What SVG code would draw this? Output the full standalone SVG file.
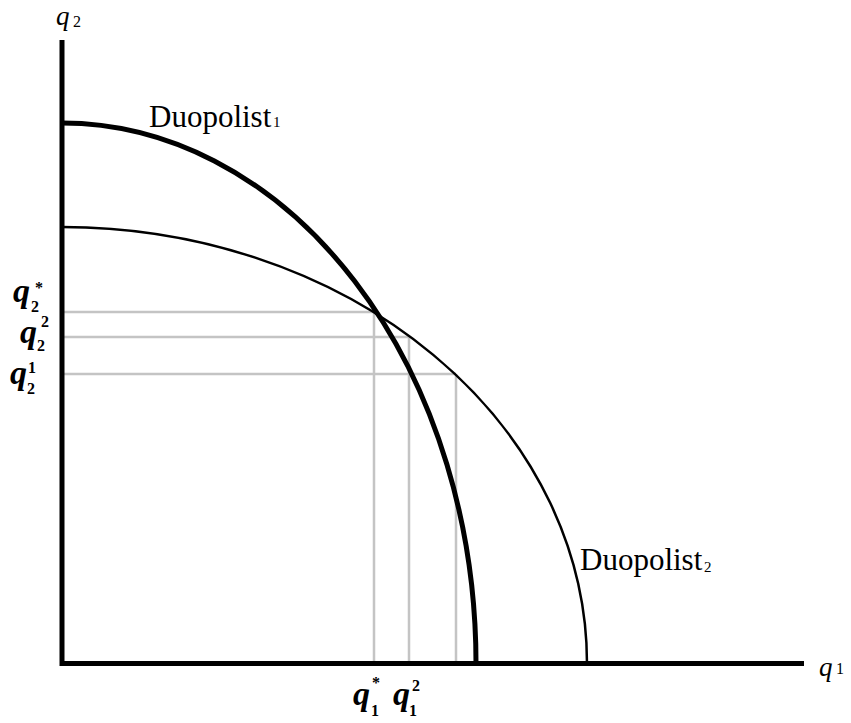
<svg xmlns="http://www.w3.org/2000/svg" width="851" height="723" viewBox="0 0 851 723">
<style>
.axis{stroke:#000;stroke-width:5;fill:none}
.grid{stroke:#c4c4c4;stroke-width:2.5;fill:none}
.c1{stroke:#000;stroke-width:5;fill:none}
.c2{stroke:#000;stroke-width:2.5;fill:none}
text{font-family:'Liberation Serif','Times New Roman',Times,serif;fill:#000}
.ax{font-style:italic;font-size:27px}
.axs{font-size:16px}
.bq{font-style:italic;font-weight:bold;font-size:34px}
.bs{font-weight:bold;font-size:16px}
.dl{font-size:31px}
.ds{font-size:15px}
</style>
<rect width="851" height="723" fill="#fff"/>
<g id="guides">
<line class="grid" x1="62" y1="312" x2="374" y2="312"/>
<line class="grid" x1="62" y1="337" x2="409" y2="337"/>
<line class="grid" x1="62" y1="374" x2="456" y2="374"/>
<line class="grid" x1="374" y1="312" x2="374" y2="663"/>
<line class="grid" x1="409" y1="337" x2="409" y2="663"/>
<line class="grid" x1="456" y1="374" x2="456" y2="663"/>
</g>
<g id="curves">
<path id="duopolist1-curve" class="c1" d="M62,123 A414,540.5 0 0 1 476,663.5"/>
<path id="duopolist2-curve" class="c2" d="M62,227 A525,436.5 0 0 1 587,663.5"/>
</g>
<g id="axes">
<line class="axis" x1="62" y1="40" x2="62" y2="666"/>
<line class="axis" x1="60" y1="663.5" x2="804" y2="663.5"/>
</g>
<g id="axis-labels">
<text x="56" y="25" class="ax">q</text><text x="73" y="27" class="axs">2</text>
<text x="819" y="676" class="ax">q</text><text x="836" y="674" class="axs">1</text>
</g>
<g id="curve-labels">
<text x="149" y="126.5" class="dl">Duopolist</text><text x="273" y="127" class="ds">1</text>
<text x="580" y="570" class="dl">Duopolist</text><text x="704" y="572" class="ds">2</text>
</g>
<g id="left-labels">
<text x="13" y="302" class="bq">q</text><text x="31" y="312" class="bs">2</text><text x="35" y="293" class="bs">*</text>
<text x="20" y="343" class="bq">q</text><text x="37" y="351" class="bs">2</text><text x="41" y="327" class="bs">2</text>
<text x="10" y="384" class="bq">q</text><text x="27" y="394" class="bs">2</text><text x="28" y="373" class="bs">1</text>
</g>
<g id="bottom-labels">
<text x="353" y="705" class="bq">q</text><text x="371" y="716" class="bs">1</text><text x="372" y="688" class="bs">*</text>
<text x="393" y="705" class="bq">q</text><text x="409" y="716" class="bs">1</text><text x="412" y="691" class="bs">2</text>
</g>
</svg>
